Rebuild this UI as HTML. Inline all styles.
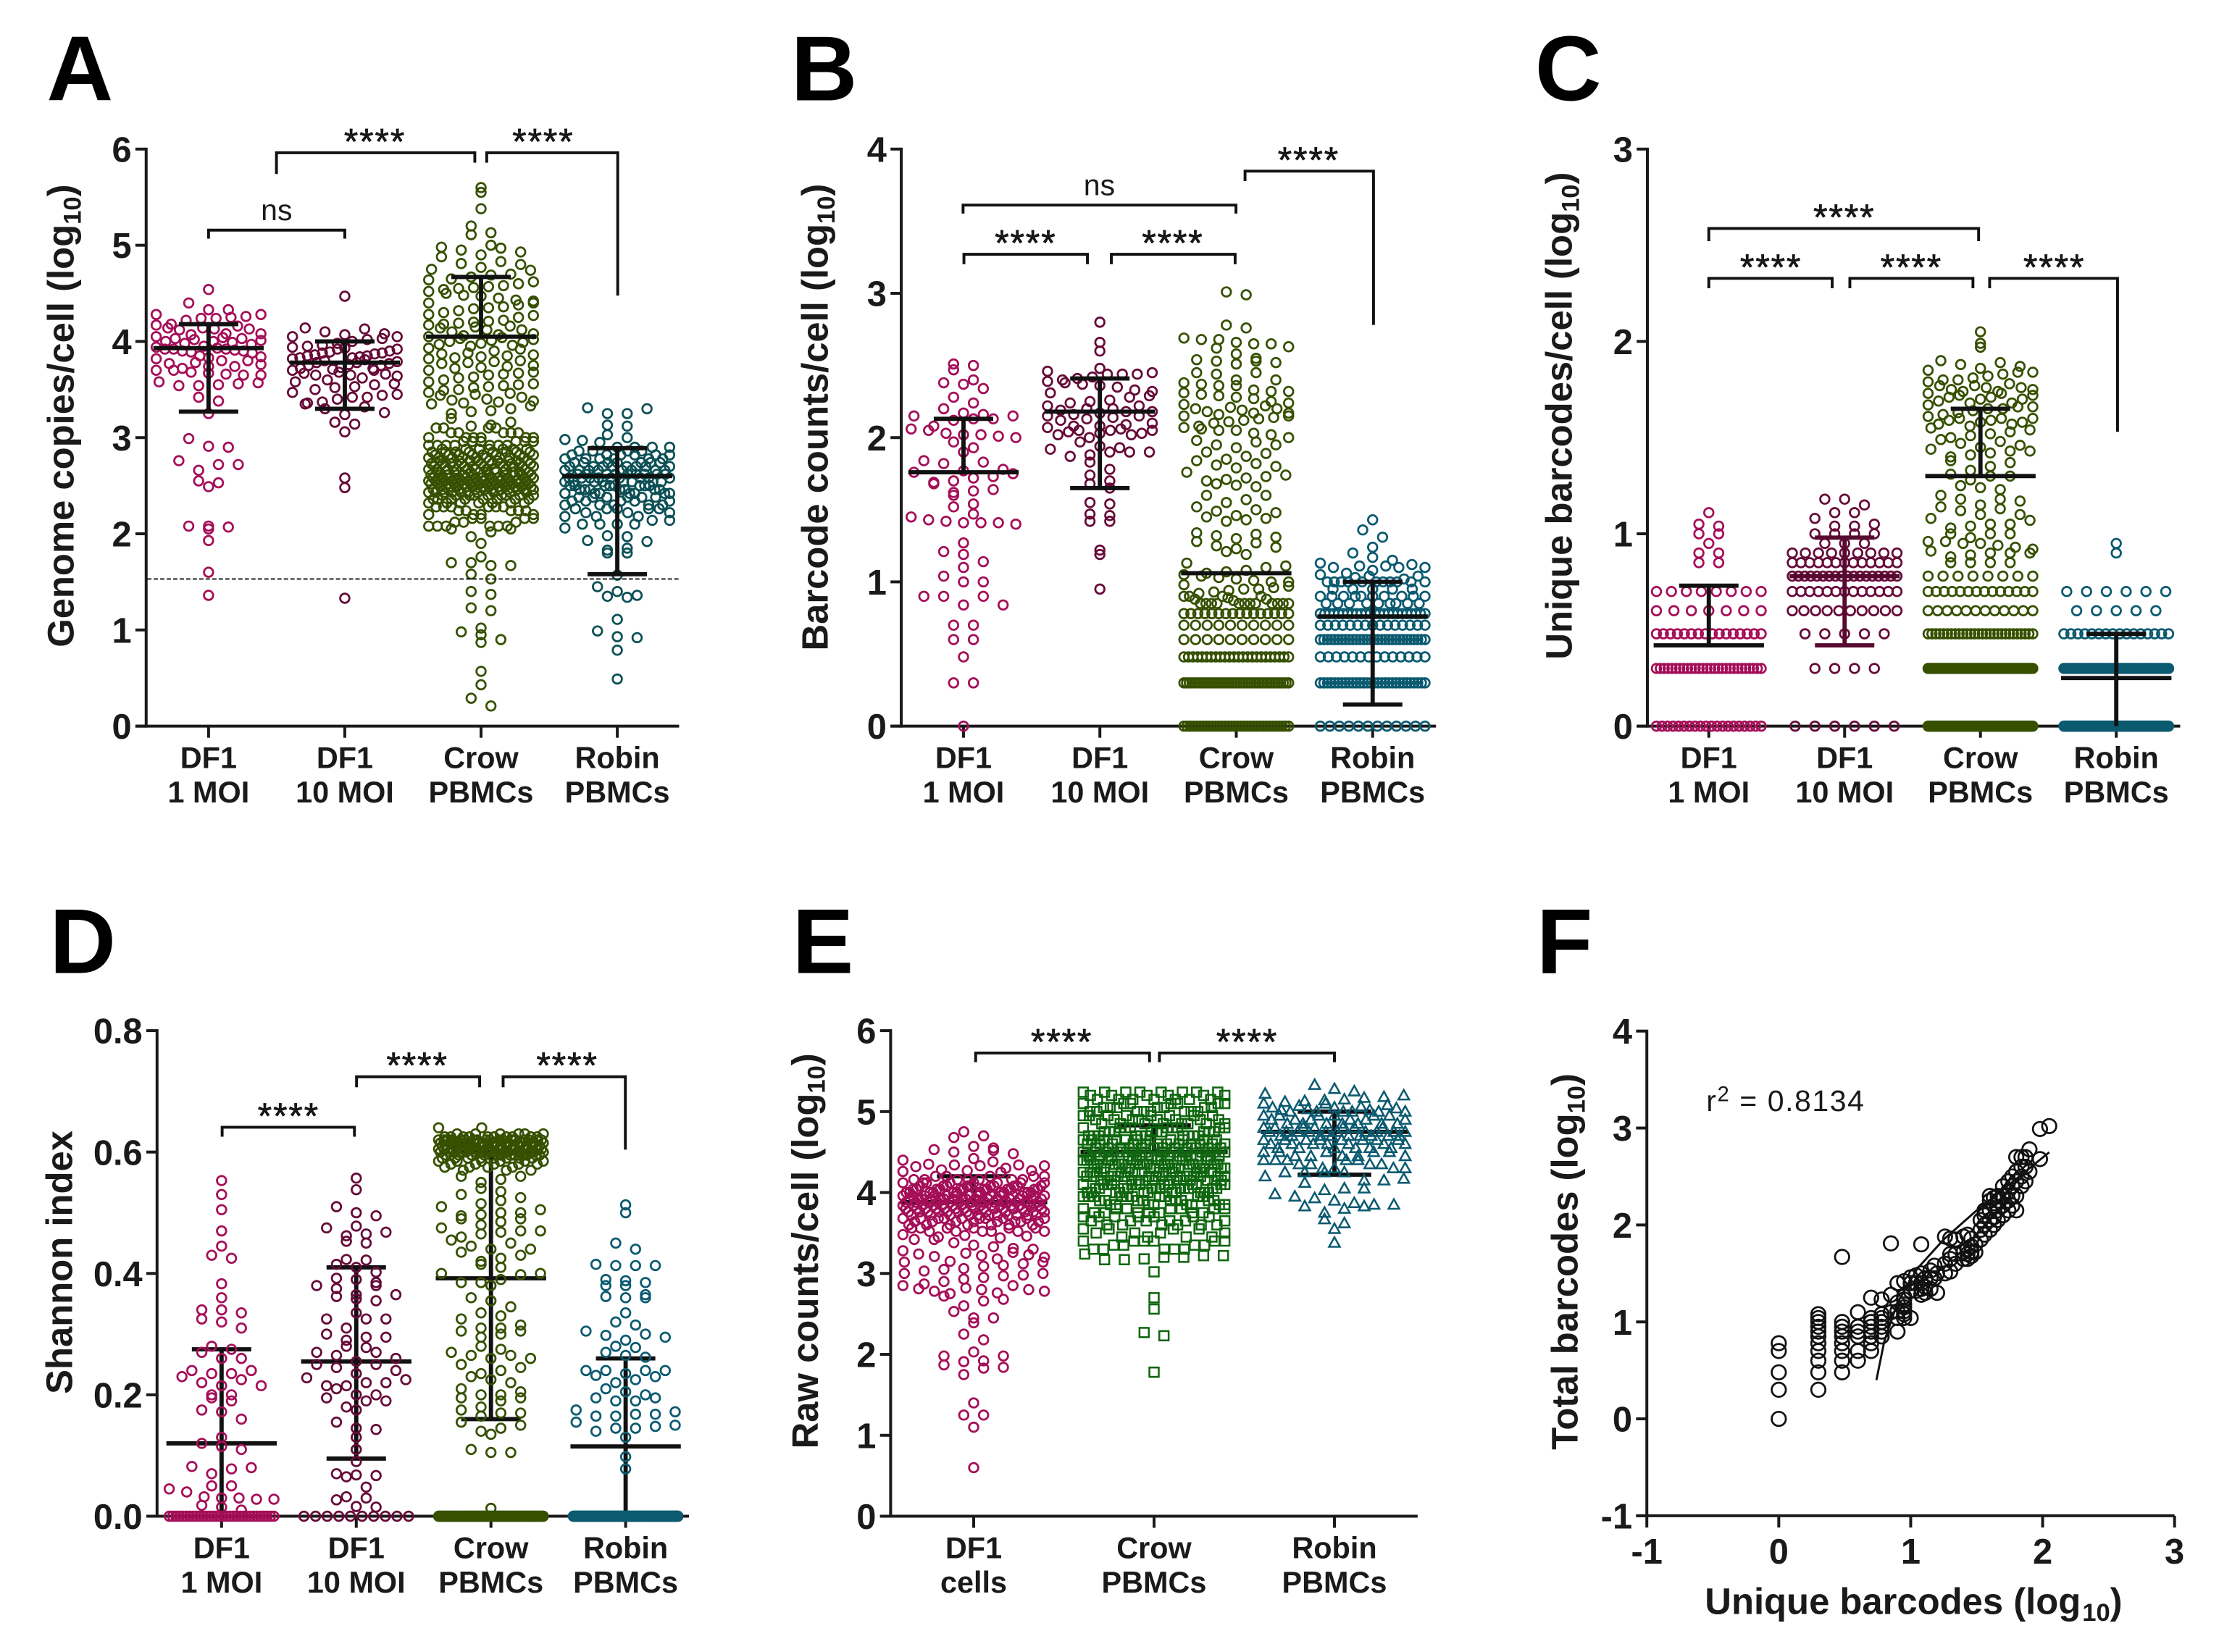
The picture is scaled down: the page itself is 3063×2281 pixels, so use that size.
<!DOCTYPE html>
<html lang="en">
<head>
<meta charset="utf-8">
<title>Barcode panels A-F</title>
<style>
html,body{margin:0;padding:0;background:#fff}
svg{display:block}
text{font-family:"Liberation Sans",Arial,sans-serif;fill:#1a1a1a}
</style>
</head>
<body>
<svg id="fig" xmlns="http://www.w3.org/2000/svg" width="3063" height="2281" viewBox="0 0 1568.4 1168"></svg>
<script>
// ---------- DATA ----------
const catFour=[['DF1','1 MOI'],['DF1','10 MOI'],['Crow','PBMCs'],['Robin','PBMCs']];
const catThree=[['DF1','cells'],['Crow','PBMCs'],['Robin','PBMCs']];
const ticksA=[0,1,2,3,4,5,6];
const ticksB=[0,1,2,3,4];
const ticksC=[0,1,2,3];
const ticksD=[0,0.2,0.4,0.6,0.8];
const tickLabelsD=['0.0','0.2','0.4','0.6','0.8'];
const ticksE=[0,1,2,3,4,5,6];
const ticksFY=[-1,0,1,2,3,4];
const ticksFX=[-1,0,1,2,3];

// Panel A
const aDf1Values=[4.54,4.40,4.33,4.33,4.28,4.28,4.26,4.25,4.24,4.24,4.22,4.18,4.17,4.16,4.14,4.14,4.13,4.13,4.12,4.08,4.08,4.07,4.05,4.04,4.03,4.03,4.02,4.01,4.0,4.0,3.99,3.98,3.97,3.95,3.94,3.93,3.92,3.92,3.92,3.91,3.90,3.90,3.89,3.88,3.85,3.84,3.83,3.82,3.8,3.8,3.78,3.77,3.76,3.74,3.74,3.72,3.7,3.7,3.68,3.67,3.66,3.65,3.65,3.58,3.57,3.56,3.55,3.54,3.54,3.42,3.38,3.25,2.99,2.91,2.9,2.76,2.72,2.72,2.66,2.55,2.53,2.49,2.08,2.08,2.07,2.05,1.93,1.60,1.36];
const aDf10Values=[4.47,4.14,4.13,4.1,4.08,4.07,4.05,4.05,4.03,4.02,4.0,3.98,3.96,3.95,3.94,3.93,3.92,3.92,3.9,3.89,3.88,3.88,3.87,3.86,3.85,3.85,3.84,3.83,3.83,3.82,3.81,3.8,3.79,3.78,3.78,3.77,3.76,3.75,3.75,3.73,3.72,3.72,3.71,3.7,3.7,3.68,3.67,3.66,3.65,3.65,3.64,3.62,3.6,3.58,3.56,3.55,3.53,3.52,3.5,3.47,3.45,3.44,3.42,3.42,3.4,3.37,3.36,3.35,3.32,3.3,3.26,3.24,3.16,3.14,3.06,2.58,2.48,1.33];
const aCrowValues=[5.6,5.55,5.38,5.2,5.13,5.11,5.0,4.98,4.97,4.95,4.93,4.9,4.88,4.83,4.81,4.8,4.77,4.75,4.74,4.7,4.69,4.67,4.65,4.64,4.62,4.6,4.58,4.57,4.56,4.55,4.54,4.52,4.5,4.48,4.47,4.45,4.43,4.42,4.4,4.4,4.38,4.36,4.35,4.34,4.32,4.3,4.28,4.27,4.25,4.22,4.21,4.2,4.19,4.18,4.17,4.16,4.15,4.14,4.12,4.12,4.1,4.08,4.07,4.06,4.05,4.04,4.03,4.02,4.01,4.0,3.99,3.98,3.97,3.96,3.95,3.93,3.92,3.9,3.88,3.87,3.86,3.85,3.84,3.83,3.82,3.8,3.79,3.78,3.77,3.75,3.74,3.73,3.72,3.7,3.68,3.67,3.66,3.65,3.63,3.62,3.6,3.58,3.56,3.55,3.54,3.53,3.52,3.5,3.49,3.47,3.46,3.45,3.44,3.42,3.4,3.39,3.38,3.37,3.36,3.35,3.33,3.3,3.28,3.27,3.25,3.2,3.16,3.13,3.12,2.05,2.05,2.02,1.97,1.9,1.76,1.7,1.67,1.67,1.7,1.58,1.53,1.4,1.37,1.23,1.2,1.02,0.98,0.95,0.9,0.87,0.57,0.43,0.29,0.21];
const aCrowLevels=[2.08,2.12,2.16,2.2,2.24,2.28,2.32,2.36,2.4,2.43,2.46,2.49,2.52,2.55,2.58,2.61,2.64,2.67,2.7,2.73,2.76,2.79,2.82,2.85,2.88,2.92,2.96,3.0,3.05,3.1];
const aCrowCounts=[6,3,4,4,5,6,7,8,9,10,11,12,13,13,12,11,10,10,10,10,9,9,8,8,7,7,6,6,5,4];
const aRobinValues=[3.31,3.3,3.25,3.25,3.13,3.12,3.03,3.0,2.98,2.97,2.95,2.06,1.98,1.97,1.93,1.92,1.85,1.83,1.8,1.8,1.57,1.45,1.4,1.36,1.35,1.34,1.11,0.99,0.93,0.92,0.79,0.49];
const aRobinLevels=[2.1,2.14,2.18,2.22,2.26,2.3,2.34,2.38,2.42,2.46,2.5,2.54,2.58,2.62,2.66,2.7,2.74,2.78,2.82,2.86,2.9];
const aRobinCounts=[4,2,3,3,5,5,5,6,7,7,8,8,9,9,8,8,7,6,6,4,4];
const aCentre=[3.93,3.78,4.05,2.6];
const aUpper=[4.18,4.0,4.67,2.89];
const aLower=[3.27,3.3,4.05,1.58];
const aDetectionLimit=1.53;

// Panel B
const bDf1Values=[2.51,2.5,2.47,2.4,2.38,2.37,2.34,2.28,2.24,2.2,2.17,2.16,2.15,2.15,2.13,2.13,2.12,2.08,2.06,2.05,2.03,2.02,2.02,2.01,2.0,1.97,1.93,1.9,1.84,1.83,1.82,1.78,1.77,1.76,1.75,1.73,1.72,1.7,1.69,1.68,1.64,1.63,1.62,1.6,1.54,1.52,1.47,1.45,1.43,1.42,1.41,1.41,1.41,1.4,1.27,1.21,1.19,1.14,1.1,1.04,1.0,1.0,0.9,0.9,0.9,0.84,0.84,0.7,0.7,0.6,0.6,0.48,0.3,0.3,0.0];
const bDf10Values=[2.8,2.66,2.6,2.48,2.46,2.45,2.44,2.44,2.44,2.42,2.41,2.4,2.39,2.38,2.37,2.36,2.35,2.33,2.32,2.31,2.29,2.28,2.26,2.25,2.24,2.22,2.22,2.2,2.2,2.19,2.18,2.18,2.17,2.16,2.15,2.15,2.14,2.13,2.12,2.1,2.09,2.08,2.08,2.07,2.06,2.05,2.05,2.05,2.04,2.03,2.03,2.02,2.02,2.0,1.97,1.94,1.93,1.92,1.9,1.9,1.9,1.88,1.87,1.83,1.78,1.74,1.7,1.68,1.65,1.55,1.54,1.47,1.46,1.42,1.42,1.22,1.19,0.95];
const bCrowValues=[3.01,2.99,2.78,2.76,2.69,2.68,2.68,2.66,2.65,2.65,2.63,2.62,2.58,2.55,2.54,2.53,2.53,2.52,2.51,2.45,2.45,2.44,2.4,2.4,2.38,2.37,2.36,2.36,2.33,2.32,2.32,2.31,2.3,2.29,2.28,2.27,2.25,2.24,2.23,2.22,2.21,2.2,2.2,2.19,2.18,2.17,2.17,2.16,2.15,2.15,2.14,2.13,2.12,2.11,2.1,2.08,2.07,2.06,2.05,2.05,2.03,2.02,2.0,1.98,1.97,1.95,1.95,1.93,1.9,1.89,1.87,1.85,1.84,1.82,1.81,1.8,1.79,1.76,1.74,1.73,1.72,1.71,1.7,1.68,1.67,1.66,1.6,1.6,1.57,1.55,1.52,1.5,1.49,1.48,1.46,1.45,1.44,1.43,1.42,1.34,1.33,1.32,1.31,1.3,1.28,1.27,1.25,1.24,1.23,1.21,1.19,1.13,1.11,1.1,1.08,1.07,1.06,1.05,1.04,1.03,1.02,1.01,1.0,1.0,0.98,0.97,0.96,0.95,0.95,0.94,0.93,0.92,0.9,0.9,0.9,0.9,0.89,0.88,0.88,0.87];
const bCrowLevels=[0.85,0.78,0.7,0.6,0.48,0.3,0];
const bCrowCounts=[12,16,10,10,24,40,34];
const bRobinValues=[1.43,1.36,1.31,1.24,1.2,1.17,1.15,1.13,1.12,1.11,1.11,1.1,1.1,1.1,1.08,1.06,1.05,1.04,1.04,1.03,1.02];
const bRobinLevels=[1.0,0.95,0.9,0.85,0.78,0.7,0.6,0.48,0.3,0];
const bRobinCounts=[11,5,10,9,24,15,30,14,30,12];
const bCentre=[1.76,2.18,1.06,0.76];
const bUpper=[2.13,2.41,1.06,1.0];
const bLower=[1.76,1.65,1.06,0.15];

// Panel C
const cDf1Values=[1.11,1.05,1.04,1.0,1.0,0.95,0.9,0.9,0.85,0.85];
const cDf1Levels=[0.7,0.6,0.48,0.3,0];
const cDf1Counts=[8,7,16,28,20];
const cDf10Values=[1.18,1.18,1.15,1.11,1.11,1.08,1.05,1.04,1.04,1.0,1.0,1.0,1.0,0.95,0.95,0.95];
const cDf10Levels=[0.9,0.85,0.78,0.7,0.6,0.48,0.3,0];
const cDf10Counts=[9,13,18,13,10,5,4,6];
const cCrowValues=[2.05,1.99,1.97,1.9,1.89,1.88,1.87,1.86,1.85,1.84,1.84,1.83,1.82,1.81,1.8,1.8,1.79,1.78,1.77,1.77,1.76,1.76,1.75,1.75,1.74,1.74,1.73,1.73,1.72,1.72,1.71,1.71,1.7,1.7,1.69,1.68,1.68,1.67,1.66,1.66,1.65,1.65,1.64,1.63,1.62,1.61,1.6,1.6,1.6,1.59,1.59,1.58,1.58,1.57,1.57,1.56,1.55,1.54,1.53,1.52,1.51,1.5,1.49,1.48,1.47,1.46,1.45,1.44,1.43,1.43,1.42,1.41,1.4,1.38,1.37,1.35,1.33,1.31,1.3,1.3,1.28,1.25,1.24,1.23,1.2,1.18,1.18,1.17,1.15,1.14,1.13,1.12,1.1,1.1,1.08,1.07,1.05,1.05,1.04,1.03,1.0,1.0,1.0,0.98,0.96,0.96,0.95,0.95,0.94,0.93,0.92,0.91,0.9,0.9,0.9,0.89,0.88,0.85,0.85,0.85,0.85];
const cCrowLevels=[0.78,0.7,0.6,0.48,0.3,0];
const cCrowCounts=[8,14,12,28,80,90];
const cRobinValues=[0.95,0.9];
const cRobinLevels=[0.7,0.6,0.48,0.3,0];
const cRobinCounts=[6,5,16,60,120];
const cCentre=[0.42,0.78,1.30,0.25];
const cUpper=[0.73,0.98,1.65,0.48];
const cLower=[0.42,0.42,1.30,0];

// Panel D
const dDf1Values=[0.553,0.53,0.505,0.47,0.445,0.43,0.425,0.383,0.36,0.34,0.34,0.335,0.325,0.32,0.31,0.28,0.275,0.27,0.26,0.26,0.24,0.24,0.235,0.235,0.23,0.225,0.22,0.215,0.215,0.2,0.2,0.195,0.19,0.175,0.172,0.16,0.13,0.12,0.115,0.11,0.082,0.08,0.078,0.07,0.05,0.05,0.045,0.04,0.032,0.03,0.03,0.028,0.028,0.018,0.015,0.01];
const dDf1Levels=[0];
const dDf1Counts=[32];
const dDf10Values=[0.557,0.538,0.51,0.5,0.495,0.478,0.475,0.468,0.465,0.462,0.453,0.45,0.423,0.422,0.415,0.41,0.402,0.392,0.39,0.385,0.38,0.38,0.375,0.365,0.365,0.362,0.358,0.355,0.335,0.325,0.325,0.325,0.31,0.3,0.295,0.295,0.29,0.28,0.278,0.27,0.27,0.265,0.26,0.255,0.25,0.25,0.245,0.24,0.235,0.228,0.225,0.22,0.22,0.215,0.215,0.21,0.2,0.2,0.195,0.19,0.19,0.18,0.175,0.155,0.145,0.143,0.13,0.11,0.09,0.07,0.068,0.067,0.065,0.048,0.032,0.03,0.027,0.016,0.015];
const dDf10Levels=[0];
const dDf10Counts=[10];
const dCrowValues=[0.56,0.56,0.555,0.55,0.54,0.535,0.53,0.525,0.52,0.515,0.51,0.505,0.5,0.5,0.497,0.495,0.49,0.49,0.485,0.48,0.475,0.47,0.47,0.468,0.465,0.46,0.455,0.45,0.445,0.44,0.44,0.435,0.43,0.425,0.42,0.415,0.41,0.4,0.4,0.398,0.39,0.385,0.385,0.38,0.36,0.355,0.345,0.335,0.33,0.325,0.315,0.31,0.31,0.305,0.305,0.3,0.295,0.28,0.275,0.27,0.265,0.265,0.26,0.26,0.25,0.245,0.24,0.235,0.23,0.225,0.22,0.21,0.205,0.2,0.2,0.195,0.195,0.19,0.18,0.175,0.17,0.17,0.165,0.155,0.15,0.145,0.14,0.135,0.11,0.105,0.105,0.013];
const dCrowLevels=[0.64,0.63,0.625,0.62,0.615,0.61,0.605,0.6,0.595,0.59,0.585,0.58,0.575,0.57,0];
const dCrowCounts=[2,6,10,18,20,20,20,18,12,8,6,5,4,3,100];
const dRobinValues=[0.513,0.5,0.45,0.44,0.415,0.413,0.413,0.413,0.39,0.388,0.385,0.38,0.38,0.365,0.362,0.36,0.36,0.335,0.32,0.315,0.305,0.3,0.298,0.295,0.29,0.28,0.278,0.27,0.265,0.262,0.24,0.24,0.24,0.24,0.235,0.232,0.23,0.225,0.22,0.21,0.205,0.2,0.195,0.195,0.19,0.19,0.175,0.172,0.168,0.168,0.165,0.165,0.155,0.15,0.148,0.145,0.145,0.14,0.13,0.098,0.078];
const dRobinLevels=[0];
const dRobinCounts=[150];
const dCentre=[0.12,0.255,0.392,0.115];
const dUpper=[0.275,0.41,0.6,0.26];
const dLower=[0,0.095,0.16,0];

// Panel E
const eDf1Values=[4.75,4.7,4.68,4.57,4.55,4.53,4.52,4.5,4.48,4.42,4.4,4.38,4.35,4.34,4.34,4.33,4.33,4.32,4.3,4.28,4.27,4.27,4.26,4.25,3.48,3.47,3.46,3.45,3.44,3.42,3.42,3.38,3.35,3.33,3.31,3.3,3.28,3.26,3.25,3.24,3.23,3.22,3.21,3.2,3.18,3.15,3.14,3.14,3.12,3.1,3.09,3.06,3.05,3.03,3.0,3.0,2.98,2.97,2.95,2.93,2.9,2.87,2.85,2.85,2.82,2.81,2.8,2.8,2.78,2.78,2.76,2.75,2.72,2.68,2.66,2.6,2.53,2.45,2.45,2.39,2.25,2.18,2.03,1.98,1.98,1.92,1.91,1.87,1.84,1.83,1.75,1.4,1.25,1.25,1.1,0.6];
const eDf1Levels=[4.2,4.16,4.12,4.08,4.04,4,3.96,3.92,3.88,3.84,3.8,3.76,3.72,3.68,3.64,3.6,3.56,3.52];
const eDf1Counts=[5,7,8,10,12,13,14,16,16,15,14,12,11,10,8,7,6,6];
const eCrowValues=[3.24,3.22,3.22,3.2,3.2,3.18,3.17,3.17,3.02,2.7,2.56,2.27,2.23,1.78];
const eCrowLevels=[5.24,5.2,5.15,5.1,5.05,5,4.95,4.9,4.85,4.8,4.75,4.7,4.65,4.6,4.55,4.5,4.45,4.4,4.35,4.3,4.25,4.2,4.15,4.1,4.05,4,3.95,3.9,3.85,3.8,3.75,3.7,3.65,3.6,3.55,3.5,3.45,3.4,3.35,3.3];
const eCrowCounts=[8,6,7,7,7,8,8,8,8,9,9,10,11,12,12,13,13,13,14,14,14,14,14,13,12,11,10,9,8,7,7,7,6,6,4,4,4,6,4,5];
const eRobinValues=[5.33,5.28,5.25,5.22,5.2,5.18,5.17,5.15,5.14,5.13,5.12,5.1,5.1,5.08,5.07,5.06,5.05,5.05,5.04,5.03,5.02,5.02,4.2,4.17,4.15,4.15,4.12,4.05,4.05,4.03,3.98,3.95,3.93,3.9,3.87,3.85,3.85,3.83,3.83,3.8,3.75,3.67,3.62,3.55,3.38];
const eRobinLevels=[5,4.95,4.9,4.85,4.8,4.75,4.7,4.65,4.6,4.55,4.5,4.45,4.4,4.35,4.3,4.25];
const eRobinCounts=[6,6,6,7,7,10,9,8,7,6,5,5,5,4,4,4];
const eCentre=[3.88,4.5,4.75];
const eUpper=[4.2,4.83,5.0];
const eLower=[3.88,4.5,4.22];

// Panel F (each x value with the y values observed at it)
const fXValues=[0,0.3,0.48,0.6,0.7,0.78,0.85,0.9,0.95,1.0,1.04,1.08,1.11,1.15,1.18,1.2,1.26,1.3,1.34,1.4,1.43,1.46,1.49,1.53,1.56,1.6,1.63,1.66,1.7,1.74,1.77,1.8,1.84,1.87,1.9,1.98,2.05];
const fYValues=[[0,0.3,0.48,0.7,0.78],[0.3,0.48,0.6,0.7,0.78,0.85,0.9,0.95,1.0,1.04,1.08],[0.48,0.6,0.7,0.78,0.85,0.9,0.95,1.0,1.67],[0.6,0.7,0.85,0.9,0.95,1.1],[0.7,0.78,0.85,0.9,0.95,1.0,1.04,1.25],[0.85,0.9,0.95,1.0,1.04,1.08,1.23],[1.1,1.28,1.81],[0.9,1.04,1.11,1.2,1.4],[1.04,1.08,1.11,1.15,1.18,1.23,1.26,1.42],[1.04,1.32,1.4,1.46],[1.32,1.4,1.48],[1.28,1.34,1.4,1.5,1.8],[1.3,1.36,1.45],[1.34,1.45,1.53],[1.45,1.58],[1.3,1.5],[1.5,1.6,1.88],[1.52,1.65,1.7,1.86],[1.6,1.7,1.85],[1.65,1.72,1.88],[1.65,1.7,1.75,1.9],[1.68,1.72,1.78,1.86],[1.72,1.8],[1.85,1.95,2.05],[1.9,2.0,2.1,2.15],[1.95,2.05,2.15,2.25,2.3],[2.0,2.08,2.2,2.28],[2.05,2.15,2.25,2.3],[2.1,2.2,2.3,2.4],[2.15,2.25,2.35,2.45],[2.2,2.3,2.4,2.5],[2.15,2.3,2.45,2.55,2.7],[2.4,2.5,2.6,2.7],[2.45,2.6,2.7],[2.55,2.78],[2.68,2.99],[3.02]];
const fFitX=[0.74,0.8,0.9,1.05,1.25,1.5,1.75,2.05];
const fFitY=[0.4,0.8,1.2,1.55,1.85,2.15,2.42,2.75];

// ---------- DRAWING ----------
const NS='http://www.w3.org/2000/svg';
const svg=document.getElementById('fig');
function make(tag,parent,attrs){
  const n=document.createElementNS(NS,tag);
  for(const k in attrs)n.setAttribute(k,attrs[k]);
  parent.appendChild(n);
  return n;
}
const CRIMSON='#a50e58',MAROON='#660a38',OLIVE='#365000',TEAL='#0c5056',BLUE='#0b5a70',GREEN='#0e660e';
const INK='#1a1a1a';

function panelGroup(name){
  const g=make('g',svg,{});
  
  
  return g;
}
function linearScale(d0,d1,r0,r1){return v=>r0+(v-d0)*(r1-r0)/(d1-d0);}

function label(g,name,str,x,y,size,weight,anchor){
  const t=make('text',g,{x:x,y:y,'font-size':size,'font-weight':weight,'text-anchor':anchor});
  t.textContent=str;
  
  
  return t;
}
function yAxis(g,x0,xTick,scale,ticks,labels){
  const ax=make('line',g,{x1:x0,x2:x0,y1:scale(ticks[ticks.length-1])-1,y2:scale(ticks[0])+1,stroke:INK,'stroke-width':2.05});
  
  
  ticks.forEach((v,i)=>{
    const tk=make('line',g,{x1:xTick,x2:x0,y1:scale(v),y2:scale(v),stroke:INK,'stroke-width':2.05});
    
    
    label(g,'y-tick-label',labels?labels[i]:String(v),xTick-2.7,scale(v)+9,25,'bold','end');
  });
}
function xCatAxis(g,x0,xEnd,yBase,xOf,cats){
  const ax=make('line',g,{x1:x0,x2:xEnd,y1:yBase,y2:yBase,stroke:INK,'stroke-width':2.05});
  
  
  cats.forEach((c,i)=>{
    const tk=make('line',g,{x1:xOf(i),x2:xOf(i),y1:yBase,y2:yBase+8.2,stroke:INK,'stroke-width':2.05});
    
    
    label(g,'category-label',c[0],xOf(i),yBase+29.6,21.2,'bold','middle');
    label(g,'category-label',c[1],xOf(i),yBase+54,21.2,'bold','middle');
  });
}
function yTitle(g,main,sub,x,yc,size){
  const t=make('text',g,{transform:'translate('+x+' '+yc+') rotate(-90)','font-size':size,'font-weight':'bold','text-anchor':'middle'});
  
  
  t.appendChild(document.createTextNode(main));
  if(sub){
    const s=make('tspan',t,{dy:5,'font-size':size*0.68});
    s.textContent=sub;
    const c=make('tspan',t,{dy:-5});
    c.textContent=')';
  }
}
function expand(values,levels,counts){
  const out=values.slice();
  (levels||[]).forEach((l,i)=>{for(let k=0;k<counts[i];k++)out.push(l);});
  return out;
}
function gcd(a,b){return b?gcd(b,a%b):a;}
function mark(g,shape,x,y,color,name){
  let n;
  if(shape==='circle'){
    n=make('circle',g,{cx:x,cy:y,r:3.25,fill:'none',stroke:color,'stroke-width':1.4});
  }else if(shape==='square'){
    n=make('rect',g,{x:x-3.3,y:y-3.3,width:6.6,height:6.6,fill:'none',stroke:color,'stroke-width':1.3});
  }else{
    n=make('path',g,{d:'M'+x+' '+(y-3.9)+'L'+(x+3.8)+' '+(y+2.9)+'L'+(x-3.8)+' '+(y+2.9)+'Z',fill:'none',stroke:color,'stroke-width':1.3});
  }
  
  
}
// Prism-style swarm: points in one y-bin spread symmetrically about the category centre
function swarm(g,name,cx,half,scale,pts,color,shape){
  const baseY=scale(0),BIN=8,STEP=14;
  const bins={};
  pts.forEach(v=>{
    const b=Math.round((baseY-scale(v))/BIN);
    (bins[b]=bins[b]||[]).push(v);
  });
  const sg=make('g',g,{});
  
  
  Object.keys(bins).forEach(b=>{
    const arr=bins[b],n=arr.length;
    const step=n>1?Math.min(STEP,2*half/(n-1)):STEP;
    let k=n>6?7:3;
    while(gcd(k,n)!==1)k++;
    arr.forEach((v,i)=>{
      const slot=(i*k)%n;
      mark(sg,shape,cx+(slot-(n-1)/2)*step,scale(v),color,name+'-point');
    });
  });
}
function errorBar(g,cx,half,scale,centre,upper,lower,color,capHalf){
  const w=3;
  const parts=[[cx-half,scale(centre),cx+half,scale(centre)],[cx,scale(upper),cx,scale(lower)],[cx-capHalf,scale(upper),cx+capHalf,scale(upper)],[cx-capHalf,scale(lower),cx+capHalf,scale(lower)]];
  parts.forEach((p,i)=>{
    if(i===2&&Math.abs(upper-centre)<1e-9)return;
    if(i===3&&(Math.abs(lower-centre)<1e-9||lower===0))return;
    const ln=make('line',g,{x1:p[0],y1:p[1],x2:p[2],y2:p[3],stroke:color,'stroke-width':w});
    
    
  });
}
function bracket(g,x1,x2,y,dropL,dropR,txt,tx){
  const p=make('path',g,{d:'M'+x1+' '+(y+dropL)+'V'+y+'H'+x2+'V'+(y+dropR),fill:'none',stroke:'#111','stroke-width':2});
  
  
  if(txt==='ns'){
    label(g,'significance-label',txt,tx,y-7,21,'normal','middle');
  }else{
    const t=label(g,'significance-label',txt,tx,y+0.75,25.5,'normal','middle');
    t.setAttribute('letter-spacing','1');
    t.setAttribute('stroke','#000');
    t.setAttribute('stroke-width','0.35');
  }
}
function letter(str,x,y){
  const t=label(svg,'panel-letter-'+str.toLowerCase(),str,x,y,65,'bold','start');
  t.style.fill='#000';
}

// Panel A
(function(){
  const g=panelGroup('panel-a');
  const sy=linearScale(0,6,513.4,105.4);
  const xs=i=>147.4+i*96.3;
  yAxis(g,103.3,95.7,sy,ticksA);
  xCatAxis(g,95.7,480,513.4,xs,catFour);
  yTitle(g,'Genome copies/cell (log','10',52,294,26);
  swarm(g,'a-df1-1moi',xs(0),37,sy,aDf1Values,CRIMSON,'circle');
  swarm(g,'a-df1-10moi',xs(1),37,sy,aDf10Values,MAROON,'circle');
  swarm(g,'a-crow-pbmcs',xs(2),37,sy,expand(aCrowValues,aCrowLevels,aCrowCounts),OLIVE,'circle');
  swarm(g,'a-robin-pbmcs',xs(3),37,sy,expand(aRobinValues,aRobinLevels,aRobinCounts),TEAL,'circle');
  aCentre.forEach((c,i)=>errorBar(g,xs(i),39,sy,c,aUpper[i],aLower[i],'#111',21));
  const d=make('line',g,{x1:104,x2:480,y1:sy(aDetectionLimit),y2:sy(aDetectionLimit),stroke:'#111','stroke-width':1,'stroke-dasharray':'3 1.6'});
  
  
  bracket(g,147.4,243.7,162.7,6,6,'ns',195.5);
  bracket(g,195.4,335.6,108,15,7,'****',265);
  bracket(g,344,436.6,108,7,101,'****',384);
})();

// Panel B
(function(){
  const g=panelGroup('panel-b');
  const sy=linearScale(0,4,513.4,105.4);
  const xs=i=>681+i*96.4;
  yAxis(g,637,629.4,sy,ticksB);
  xCatAxis(g,629.4,1015,513.4,xs,catFour);
  yTitle(g,'Barcode counts/cell (log','10',585,295,26);
  swarm(g,'b-df1-1moi',xs(0),37,sy,bDf1Values,CRIMSON,'circle');
  swarm(g,'b-df1-10moi',xs(1),37,sy,bDf10Values,MAROON,'circle');
  swarm(g,'b-crow-pbmcs',xs(2),37,sy,expand(bCrowValues,bCrowLevels,bCrowCounts),OLIVE,'circle');
  swarm(g,'b-robin-pbmcs',xs(3),37,sy,expand(bRobinValues,bRobinLevels,bRobinCounts),BLUE,'circle');
  bCentre.forEach((c,i)=>errorBar(g,xs(i),39,sy,c,bUpper[i],bLower[i],'#111',21));
  bracket(g,680.7,873.6,145,6,6,'ns',777);
  bracket(g,681.3,768.6,179.8,7,7,'****',725);
  bracket(g,785.5,873,179.8,7,7,'****',829);
  bracket(g,880,970.8,121,7,108.7,'****',925);
})();

// Panel C
(function(){
  const g=panelGroup('panel-c');
  const sy=linearScale(0,3,513.4,105.4);
  const xs=i=>1207.8+i*96;
  yAxis(g,1164.4,1156.8,sy,ticksC);
  xCatAxis(g,1156.8,1541,513.4,xs,catFour);
  yTitle(g,'Unique barcodes/cell (log','10',1111,294,26);
  swarm(g,'c-df1-1moi',xs(0),37,sy,expand(cDf1Values,cDf1Levels,cDf1Counts),CRIMSON,'circle');
  swarm(g,'c-df1-10moi',xs(1),37,sy,expand(cDf10Values,cDf10Levels,cDf10Counts),MAROON,'circle');
  swarm(g,'c-crow-pbmcs',xs(2),37,sy,expand(cCrowValues,cCrowLevels,cCrowCounts),OLIVE,'circle');
  swarm(g,'c-robin-pbmcs',xs(3),37,sy,expand(cRobinValues,cRobinLevels,cRobinCounts),BLUE,'circle');
  cCentre.forEach((c,i)=>errorBar(g,xs(i),39,sy,c,cUpper[i],cLower[i],i===1?'#560a30':'#111',21));
  bracket(g,1207.8,1398.5,161.5,9,9,'****',1303.6);
  bracket(g,1207.8,1295,196.8,7,7,'****',1251.8);
  bracket(g,1307.5,1394.5,196.8,7,7,'****',1351);
  bracket(g,1406.3,1496.7,196.8,7,108.5,'****',1452);
})();

// Panel D
(function(){
  const g=panelGroup('panel-d');
  const sy=linearScale(0,0.8,1072,728.7);
  const xs=i=>156.6+i*95.2;
  yAxis(g,111,103.4,sy,ticksD,tickLabelsD);
  xCatAxis(g,103.4,487,1072,xs,catFour);
  yTitle(g,'Shannon index',null,51,892.5,26);
  dCentre.forEach((c,i)=>errorBar(g,xs(i),39,sy,c,dUpper[i],dLower[i],'#111',21));
  swarm(g,'d-df1-1moi',xs(0),37,sy,expand(dDf1Values,dDf1Levels,dDf1Counts),CRIMSON,'circle');
  swarm(g,'d-df1-10moi',xs(1),37,sy,expand(dDf10Values,dDf10Levels,dDf10Counts),MAROON,'circle');
  swarm(g,'d-crow-pbmcs',xs(2),37,sy,expand(dCrowValues,dCrowLevels,dCrowCounts),OLIVE,'circle');
  swarm(g,'d-robin-pbmcs',xs(3),37,sy,expand(dRobinValues,dRobinLevels,dRobinCounts),BLUE,'circle');
  bracket(g,157,250.5,797,6.7,6.7,'****',204);
  bracket(g,252,339,761.3,7.4,7.4,'****',295);
  bracket(g,355.6,442,761.3,7.4,51.5,'****',401);
})();

// Panel E
(function(){
  const g=panelGroup('panel-e');
  const sy=linearScale(0,6,1072,728.7);
  const xs=i=>688.2+i*127.5;
  yAxis(g,629.5,622,sy,ticksE);
  xCatAxis(g,622,1002,1072,xs,catThree);
  yTitle(g,'Raw counts/cell (log','10',578,884.5,26);
  eCentre.forEach((c,i)=>errorBar(g,xs(i),52,sy,c,eUpper[i],eLower[i],'#111',26));
  swarm(g,'e-df1-cells',xs(0),50,sy,expand(eDf1Values,eDf1Levels,eDf1Counts),CRIMSON,'circle');
  swarm(g,'e-crow-pbmcs',xs(1),50,sy,expand(eCrowValues,eCrowLevels,eCrowCounts),GREEN,'square');
  swarm(g,'e-robin-pbmcs',xs(2),50,sy,expand(eRobinValues,eRobinLevels,eRobinCounts),BLUE,'triangle');
  bracket(g,689.6,812.5,744.5,6.5,6.5,'****',750.5);
  bracket(g,819.5,943.2,744.5,6.5,6.5,'****',881.5);
})();

// Panel F
(function(){
  const g=panelGroup('panel-f');
  const sy=linearScale(-1,4,1071.7,729);
  const sx=linearScale(-1,3,1164,1537);
  yAxis(g,1164,1156.4,sy,ticksFY);
  const ax=make('line',g,{x1:1156.4,x2:1537,y1:1071.7,y2:1071.7,stroke:INK,'stroke-width':2.05});
  
  
  ticksFX.forEach(v=>{
    const tk=make('line',g,{x1:sx(v),x2:sx(v),y1:1071.7,y2:1080,stroke:INK,'stroke-width':2.05});
    
    
    label(g,'x-tick-label',String(v),sx(v),1105.5,25,'bold','middle');
  });
  yTitle(g,'Total barcodes (log','10',1115,892,26);
  const tx=make('text',g,{x:1205,y:1141,'font-size':26,'font-weight':'bold'});
  
  
  tx.appendChild(document.createTextNode('Unique barcodes (log'));
  const s=make('tspan',tx,{dy:5,dx:1,'font-size':17.7});
  s.textContent='10';
  const c=make('tspan',tx,{dy:-5});
  c.textContent=')';
  const r=make('text',g,{x:1206,y:785.5,'font-size':21,'letter-spacing':'0.8'});
  
  
  r.appendChild(document.createTextNode('r'));
  const sup=make('tspan',r,{dy:-7,'font-size':15});
  sup.textContent='2';
  const rest=make('tspan',r,{dy:7});
  rest.textContent=' = 0.8134';
  fXValues.forEach((xv,i)=>{
    fYValues[i].forEach(yv=>{
      const m=make('circle',g,{cx:sx(xv),cy:sy(yv),r:5,fill:'none',stroke:'#111','stroke-width':1.4});
      
      
    });
  });
  const pts=fFitX.map((x,i)=>sx(x)+','+sy(fFitY[i])).join(' ');
  const fit=make('polyline',g,{points:pts,fill:'none',stroke:'#111','stroke-width':1.5});
  
  
})();

letter('A',33,71);
letter('B',559,71);
letter('C',1085,71);
letter('D',35,688);
letter('E',560,688);
letter('F',1086,688);
</script>
</body>
</html>
